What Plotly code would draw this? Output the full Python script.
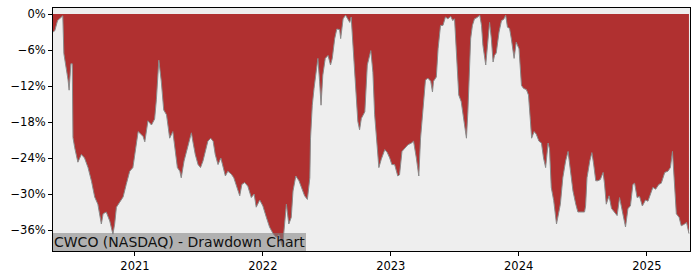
import pandas as pd
import plotly.graph_objects as go

start_date = "2020-05-12"
# trading-day positions as days since start_date
day_offsets = [0, 5, 13, 24, 28, 31, 38, 43, 46, 51, 55, 57, 62, 71, 81, 90, 100, 110, 119, 128,
               138, 143, 152, 162, 171, 176, 181, 190, 200, 209, 219, 228, 238, 243, 252, 257, 262, 271, 281, 290,
               295, 302, 309, 316, 324, 333, 342, 349, 355, 362, 366, 374, 381, 390, 395, 400, 406, 414, 421, 428,
               435, 442, 450, 457, 463, 471, 479, 485, 492, 499, 509, 516, 523, 533, 539, 547, 556, 566, 574, 580,
               590, 599, 609, 618, 628, 637, 645, 655, 661, 666, 673, 680, 685, 693, 702, 712, 718, 726, 733, 735,
               740, 745, 752, 756, 761, 765, 770, 777, 785, 792, 797, 804, 810, 818, 821, 828, 835, 841, 847, 851,
               856, 864, 870, 875, 880, 890, 897, 907, 913, 918, 926, 930, 937, 947, 954, 961, 967, 975, 984, 989,
               996, 1004, 1013, 1023, 1029, 1037, 1044, 1049, 1056, 1063, 1070, 1078, 1083, 1086, 1094, 1099, 1106, 1113, 1120, 1127,
               1135, 1141, 1146, 1151, 1158, 1165, 1173, 1180, 1184, 1189, 1192, 1197, 1203, 1210, 1218, 1223, 1227, 1235, 1241, 1246,
               1251, 1256, 1260, 1265, 1273, 1280, 1286, 1292, 1297, 1303, 1308, 1316, 1322, 1330, 1337, 1343, 1351, 1357, 1362, 1366,
               1373, 1379, 1387, 1394, 1400, 1406, 1413, 1417, 1422, 1429, 1437, 1441, 1448, 1455, 1463, 1470, 1476, 1484, 1492, 1498,
               1503, 1517, 1520, 1524, 1532, 1538, 1543, 1549, 1555, 1562, 1570, 1574, 1579, 1587, 1594, 1603, 1610, 1617, 1625, 1634,
               1641, 1648, 1655, 1660, 1667, 1674, 1682, 1691, 1698, 1705, 1712, 1720, 1729, 1736, 1746, 1755, 1762, 1768, 1772, 1779,
               1787, 1793, 1803, 1808, 1815]
drawdown_pct = [-3.0, -2.8, -1.1, -0.5, -0.3, -6.6, -8.8, -11.0, -12.7, -8.3, -8.3, -20.6, -22.3, -24.7, -23.4, -24.0, -25.6, -27.9, -30.5, -31.7,
                -35.0, -33.3, -33.0, -34.5, -36.7, -35.0, -32.2, -31.4, -30.5, -28.4, -26.2, -25.6, -21.8, -19.6, -20.1, -20.4, -21.3, -17.8, -18.5, -17.5,
                -14.3, -7.7, -11.2, -16.0, -16.8, -20.7, -19.6, -22.9, -25.6, -26.2, -27.3, -24.5, -22.9, -21.2, -19.8, -21.5, -23.4, -25.1, -25.6, -24.5,
                -22.9, -21.2, -20.7, -21.2, -23.4, -25.1, -24.0, -25.4, -27.0, -26.2, -26.7, -27.3, -28.7, -30.3, -28.4, -28.1, -28.7, -30.6, -30.0, -32.2,
                -31.0, -32.0, -33.9, -35.5, -36.6, -37.2, -36.8, -38.8, -35.0, -31.7, -35.0, -33.9, -29.5, -27.0, -27.8, -29.5, -30.3, -30.9, -27.3, -20.7,
                -15.2, -12.4, -9.7, -7.4, -11.3, -15.2, -10.2, -7.4, -6.9, -8.5, -7.4, -4.1, -2.5, -2.6, -4.1, -0.8, -0.2, -0.8, -1.4, -0.5,
                -5.2, -12.4, -17.9, -19.3, -17.4, -16.3, -8.5, -6.1, -9.7, -16.8, -22.9, -25.6, -24.2, -22.6, -23.1, -24.0, -25.1, -25.1, -27.0, -26.8,
                -22.9, -22.3, -21.8, -21.5, -21.2, -24.0, -27.0, -20.7, -15.2, -11.0, -10.7, -11.2, -13.0, -11.2, -10.5, -5.8, -1.9, -1.9, -0.5, -0.8,
                -0.4, -1.1, -0.8, -6.9, -13.5, -14.6, -17.9, -20.7, -16.3, -6.0, -4.1, -1.9, -0.8, -0.6, -0.2, -1.9, -5.2, -8.5, -4.1, -1.4,
                -4.1, -8.0, -6.9, -6.5, -3.0, -1.1, -0.9, -0.2, -2.2, -2.4, -4.1, -7.4, -4.7, -5.8, -11.9, -12.4, -12.6, -13.5, -17.4, -20.7,
                -19.6, -20.0, -21.2, -21.5, -24.0, -25.6, -21.5, -22.5, -28.9, -31.1, -35.0, -33.9, -31.7, -27.3, -24.5, -22.9, -26.2, -29.5, -31.7, -33.0,
                -33.0, -33.0, -32.0, -27.3, -24.5, -23.1, -25.0, -27.8, -27.8, -27.6, -26.4, -28.3, -31.7, -30.3, -32.4, -33.0, -33.6, -30.6, -32.8, -35.5,
                -32.4, -32.0, -28.4, -28.2, -30.6, -30.4, -32.0, -31.0, -31.2, -30.0, -28.9, -29.2, -28.4, -28.2, -26.4, -26.2, -25.6, -22.9, -27.3, -33.3,
                -33.9, -35.3, -35.0, -34.7, -36.6]

y_tick_vals = [0, -6, -12, -18, -24, -30, -36]
y_tick_text = ["0%", "\u22126%", "\u221212%", "\u221218%", "\u221224%", "\u221230%", "\u221236%"]
x_tick_vals = ["2021-01-01", "2022-01-01", "2023-01-01", "2024-01-01", "2025-01-01"]
x_tick_text = ["2021", "2022", "2023", "2024", "2025"]
chart_label = "CWCO (NASDAQ) - Drawdown Chart"

t0 = pd.Timestamp(start_date)
dates = t0 + pd.to_timedelta(day_offsets, unit="D")

fig = go.Figure()
fig.add_trace(go.Scatter(
    x=dates, y=drawdown_pct, mode="lines", fill="tozeroy",
    fillcolor="#B03030", line=dict(color="#8a8a8a", width=1),
    hoverinfo="skip", showlegend=False,
))

font_family = "DejaVu Sans"
fig.update_layout(
    width=700, height=280,
    margin=dict(l=53, r=10, t=7, b=28),
    paper_bgcolor="white", plot_bgcolor="#EEEEEE",
    font=dict(family=font_family, size=11.5, color="black"),
    xaxis=dict(
        range=[t0, t0 + pd.Timedelta(days=1818)],
        tickvals=x_tick_vals, ticktext=x_tick_text,
        showgrid=False, zeroline=False,
        showline=True, linecolor="black", linewidth=1, mirror=True,
        ticks="outside", ticklen=4, tickwidth=1, tickcolor="black",
        tickfont=dict(family=font_family, size=11.5, color="black"),
    ),
    yaxis=dict(
        range=[-39.5, 1.0],
        tickvals=y_tick_vals, ticktext=y_tick_text,
        showgrid=False, zeroline=False,
        showline=True, linecolor="black", linewidth=1, mirror=True,
        ticks="outside", ticklen=4, tickwidth=1, tickcolor="black",
        tickfont=dict(family=font_family, size=11.5, color="black"),
    ),
    annotations=[dict(
        text=chart_label, xref="paper", yref="paper", x=0, y=0,
        xanchor="left", yanchor="bottom", showarrow=False,
        font=dict(family=font_family, size=14, color="#111111"),
        bgcolor="rgba(128,128,128,0.55)", borderpad=1, borderwidth=0,
    )],
)

fig.write_html("out.html")
